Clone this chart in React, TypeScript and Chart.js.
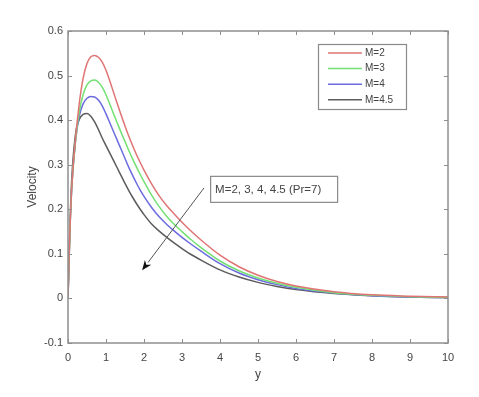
import React, { useEffect, useRef } from "react";
import { Chart, registerables } from "chart.js";

Chart.register(...registerables);

// ---- data ----
const seriesLabels = ["M=2", "M=3", "M=4", "M=4.5"];
const seriesColors = ["#e07474", "#72e072", "#6c6ce0", "#5c5c5c"];

const xM2 = [0, 0.05, 0.1, 0.2, 0.3, 0.4, 0.5, 0.6, 0.7, 0.8, 0.9, 1.0, 1.1, 1.2, 1.3, 1.4, 1.5, 1.6, 1.7, 1.8, 1.9, 2.0, 2.2, 2.4, 2.6, 2.8, 3.0, 3.25, 3.5, 4.0, 4.5, 5, 5.5, 6, 7, 8, 9, 10];
const yM2 = [0, 0.15, 0.25, 0.36, 0.44, 0.495, 0.527, 0.542, 0.545, 0.541, 0.53, 0.512, 0.488, 0.462, 0.436, 0.411, 0.387, 0.364, 0.343, 0.323, 0.305, 0.288, 0.257, 0.23, 0.208, 0.189, 0.171, 0.15, 0.131, 0.097, 0.071, 0.052, 0.038, 0.028, 0.015, 0.008, 0.005, 0.003];

const xM3 = [0, 0.05, 0.1, 0.2, 0.3, 0.4, 0.5, 0.6, 0.7, 0.8, 0.9, 1.0, 1.1, 1.2, 1.3, 1.4, 1.5, 1.6, 1.7, 1.8, 1.9, 2.0, 2.2, 2.4, 2.6, 2.8, 3.0, 3.25, 3.5, 4.0, 4.5, 5, 5.5, 6, 7, 8, 9, 10];
const yM3 = [0, 0.15, 0.25, 0.355, 0.42, 0.458, 0.479, 0.488, 0.49, 0.485, 0.474, 0.457, 0.436, 0.414, 0.393, 0.372, 0.352, 0.332, 0.313, 0.295, 0.278, 0.262, 0.232, 0.206, 0.184, 0.166, 0.15, 0.131, 0.114, 0.084, 0.062, 0.046, 0.034, 0.025, 0.013, 0.007, 0.004, 0.002];

const xM4 = [0, 0.05, 0.1, 0.2, 0.3, 0.4, 0.5, 0.6, 0.7, 0.8, 0.9, 1.0, 1.1, 1.2, 1.3, 1.4, 1.5, 1.6, 1.7, 1.8, 1.9, 2.0, 2.2, 2.4, 2.6, 2.8, 3.0, 3.25, 3.5, 4.0, 4.5, 5, 5.5, 6, 7, 8, 9, 10];
const yM4 = [0, 0.15, 0.25, 0.355, 0.41, 0.437, 0.449, 0.453, 0.452, 0.445, 0.432, 0.414, 0.394, 0.374, 0.354, 0.334, 0.314, 0.294, 0.276, 0.259, 0.243, 0.229, 0.204, 0.183, 0.166, 0.151, 0.137, 0.121, 0.106, 0.078, 0.057, 0.042, 0.031, 0.022, 0.012, 0.006, 0.003, 0.002];

const xM45 = [0, 0.05, 0.1, 0.2, 0.3, 0.4, 0.5, 0.6, 0.7, 0.8, 0.9, 1.0, 1.1, 1.2, 1.3, 1.4, 1.5, 1.6, 1.7, 1.8, 1.9, 2.0, 2.2, 2.4, 2.6, 2.8, 3.0, 3.25, 3.5, 4.0, 4.5, 5, 5.5, 6, 7, 8, 9, 10];
const yM45 = [0, 0.16, 0.27, 0.37, 0.402, 0.413, 0.415, 0.409, 0.396, 0.379, 0.36, 0.343, 0.326, 0.309, 0.292, 0.275, 0.258, 0.242, 0.227, 0.213, 0.2, 0.188, 0.167, 0.151, 0.137, 0.124, 0.112, 0.098, 0.086, 0.064, 0.048, 0.036, 0.027, 0.02, 0.011, 0.006, 0.003, 0.002];

const xTicks = [0, 1, 2, 3, 4, 5, 6, 7, 8, 9, 10];
const yTicks = [-0.1, 0, 0.1, 0.2, 0.3, 0.4, 0.5, 0.6];
const xTitle = "y";
const yTitle = "Velocity";
const annotationText = "M=2, 3, 4, 4.5 (Pr=7)";

const FONT = "'Liberation Sans', Arial, sans-serif";
const TEXT = "#444444";
const AXIS = "#8f8f8f";

const decorPlugin = {
  id: "decor",
  afterDraw(chart: any) {
    const { ctx, chartArea: a, scales } = chart;
    const sx = scales.x;
    const sy = scales.y;
    ctx.save();
    // box
    ctx.strokeStyle = AXIS;
    ctx.lineWidth = 1.5;
    ctx.strokeRect(a.left, a.top, a.right - a.left, a.bottom - a.top);
    // inward ticks
    ctx.lineWidth = 1;
    const tl = 4;
    ctx.beginPath();
    xTicks.forEach((v) => {
      const px = Math.round(sx.getPixelForValue(v)) + 0.5;
      ctx.moveTo(px, a.bottom);
      ctx.lineTo(px, a.bottom - tl);
      ctx.moveTo(px, a.top);
      ctx.lineTo(px, a.top + tl);
    });
    yTicks.forEach((v) => {
      const py = Math.round(sy.getPixelForValue(v)) + 0.5;
      ctx.moveTo(a.left, py);
      ctx.lineTo(a.left + tl, py);
      ctx.moveTo(a.right, py);
      ctx.lineTo(a.right - tl, py);
    });
    ctx.stroke();

    // legend
    const lx = a.right - 130;
    const ly = a.top + 13;
    const lw = 88;
    const lh = 65;
    ctx.fillStyle = "#ffffff";
    ctx.fillRect(lx, ly, lw, lh);
    ctx.strokeStyle = "#8a8a8a";
    ctx.lineWidth = 1.2;
    ctx.strokeRect(lx + 0.5, ly + 0.5, lw, lh);
    ctx.font = `10px ${FONT}`;
    ctx.textBaseline = "middle";
    ctx.textAlign = "left";
    seriesLabels.forEach((lab, i) => {
      const yy = ly + 9 + i * 15.6;
      ctx.strokeStyle = seriesColors[i];
      ctx.lineWidth = 1.5;
      ctx.beginPath();
      ctx.moveTo(lx + 10, yy);
      ctx.lineTo(lx + 44, yy);
      ctx.stroke();
      ctx.fillStyle = TEXT;
      ctx.fillText(lab, lx + 47, yy);
    });

    // arrow annotation (data coordinates)
    const fx = sx.getPixelForValue(3.58);
    const fy = sy.getPixelForValue(0.248);
    const tx = sx.getPixelForValue(1.95);
    const ty = sy.getPixelForValue(0.063);
    const ang = Math.atan2(ty - fy, tx - fx);
    const hl = 10;
    const hw = 4;
    const bx = tx - hl * Math.cos(ang);
    const by = ty - hl * Math.sin(ang);
    ctx.strokeStyle = "#555555";
    ctx.lineWidth = 1;
    ctx.beginPath();
    ctx.moveTo(fx, fy);
    ctx.lineTo(bx, by);
    ctx.stroke();
    ctx.fillStyle = "#111111";
    ctx.beginPath();
    ctx.moveTo(tx, ty);
    ctx.lineTo(bx + hw * Math.sin(ang), by - hw * Math.cos(ang));
    ctx.lineTo(bx + 3 * Math.cos(ang), by + 3 * Math.sin(ang));
    ctx.lineTo(bx - hw * Math.sin(ang), by + hw * Math.cos(ang));
    ctx.closePath();
    ctx.fill();

    // text box
    const ax = sx.getPixelForValue(3.74);
    const ay = sy.getPixelForValue(0.275);
    const aw = 127;
    const ah = 26;
    ctx.fillStyle = "#ffffff";
    ctx.fillRect(ax, ay, aw, ah);
    ctx.strokeStyle = "#8a8a8a";
    ctx.lineWidth = 1.2;
    ctx.strokeRect(ax + 0.5, ay + 0.5, aw, ah);
    ctx.fillStyle = TEXT;
    ctx.font = `11.5px ${FONT}`;
    ctx.textBaseline = "middle";
    ctx.fillText(annotationText, ax + 5, ay + ah / 2 + 1);
    ctx.restore();
  },
};

export default function App() {
  const ref = useRef<HTMLCanvasElement | null>(null);
  useEffect(() => {
    document.body.style.margin = "0";
    const canvas = ref.current;
    if (!canvas) return;
    const xs = [xM2, xM3, xM4, xM45];
    const ys = [yM2, yM3, yM4, yM45];
    const chart = new Chart(canvas, {
      type: "line",
      data: {
        datasets: seriesLabels.map((lab, i) => ({
          label: lab,
          data: xs[i].map((x, j) => ({ x, y: ys[i][j] })),
          borderColor: seriesColors[i],
          borderWidth: 1.5,
          pointRadius: 0,
          fill: false,
          cubicInterpolationMode: "monotone" as const,
        })),
      },
      options: {
        animation: false,
        responsive: false,
        layout: { padding: { left: 0, right: 31, top: 31, bottom: 0 } },
        plugins: { legend: { display: false }, tooltip: { enabled: false } },
        scales: {
          x: {
            type: "linear",
            min: 0,
            max: 10,
            grid: { display: false, drawTicks: false },
            border: { display: false },
            afterBuildTicks: (axis: any) => {
              axis.ticks = xTicks.map((v) => ({ value: v }));
            },
            ticks: {
              font: { family: FONT, size: 11 },
              color: TEXT,
              padding: 8,
              maxRotation: 0,
              autoSkip: false,
              callback: (v: any) => String(v),
            },
            title: {
              display: true,
              text: xTitle,
              font: { family: FONT, size: 12 },
              color: TEXT,
              padding: { top: 0, bottom: 15 },
            },
            afterFit: (s: any) => {
              s.height = 54;
            },
          },
          y: {
            type: "linear",
            min: -0.1,
            max: 0.6,
            grid: { display: false, drawTicks: false },
            border: { display: false },
            afterBuildTicks: (axis: any) => {
              axis.ticks = yTicks.map((v) => ({ value: v }));
            },
            ticks: {
              font: { family: FONT, size: 11 },
              color: TEXT,
              padding: 5,
              autoSkip: false,
              callback: (v: any) => String(v),
            },
            title: {
              display: true,
              text: yTitle,
              font: { family: FONT, size: 12 },
              color: TEXT,
              padding: { top: 25, bottom: 0 },
            },
            afterFit: (s: any) => {
              s.width = 68;
            },
          },
        },
      },
      plugins: [decorPlugin],
    });
    return () => chart.destroy();
  }, []);
  return (
    <div style={{ width: 479, height: 397 }}>
      <canvas ref={ref} width={479} height={397} style={{ display: "block" }} />
    </div>
  );
}
